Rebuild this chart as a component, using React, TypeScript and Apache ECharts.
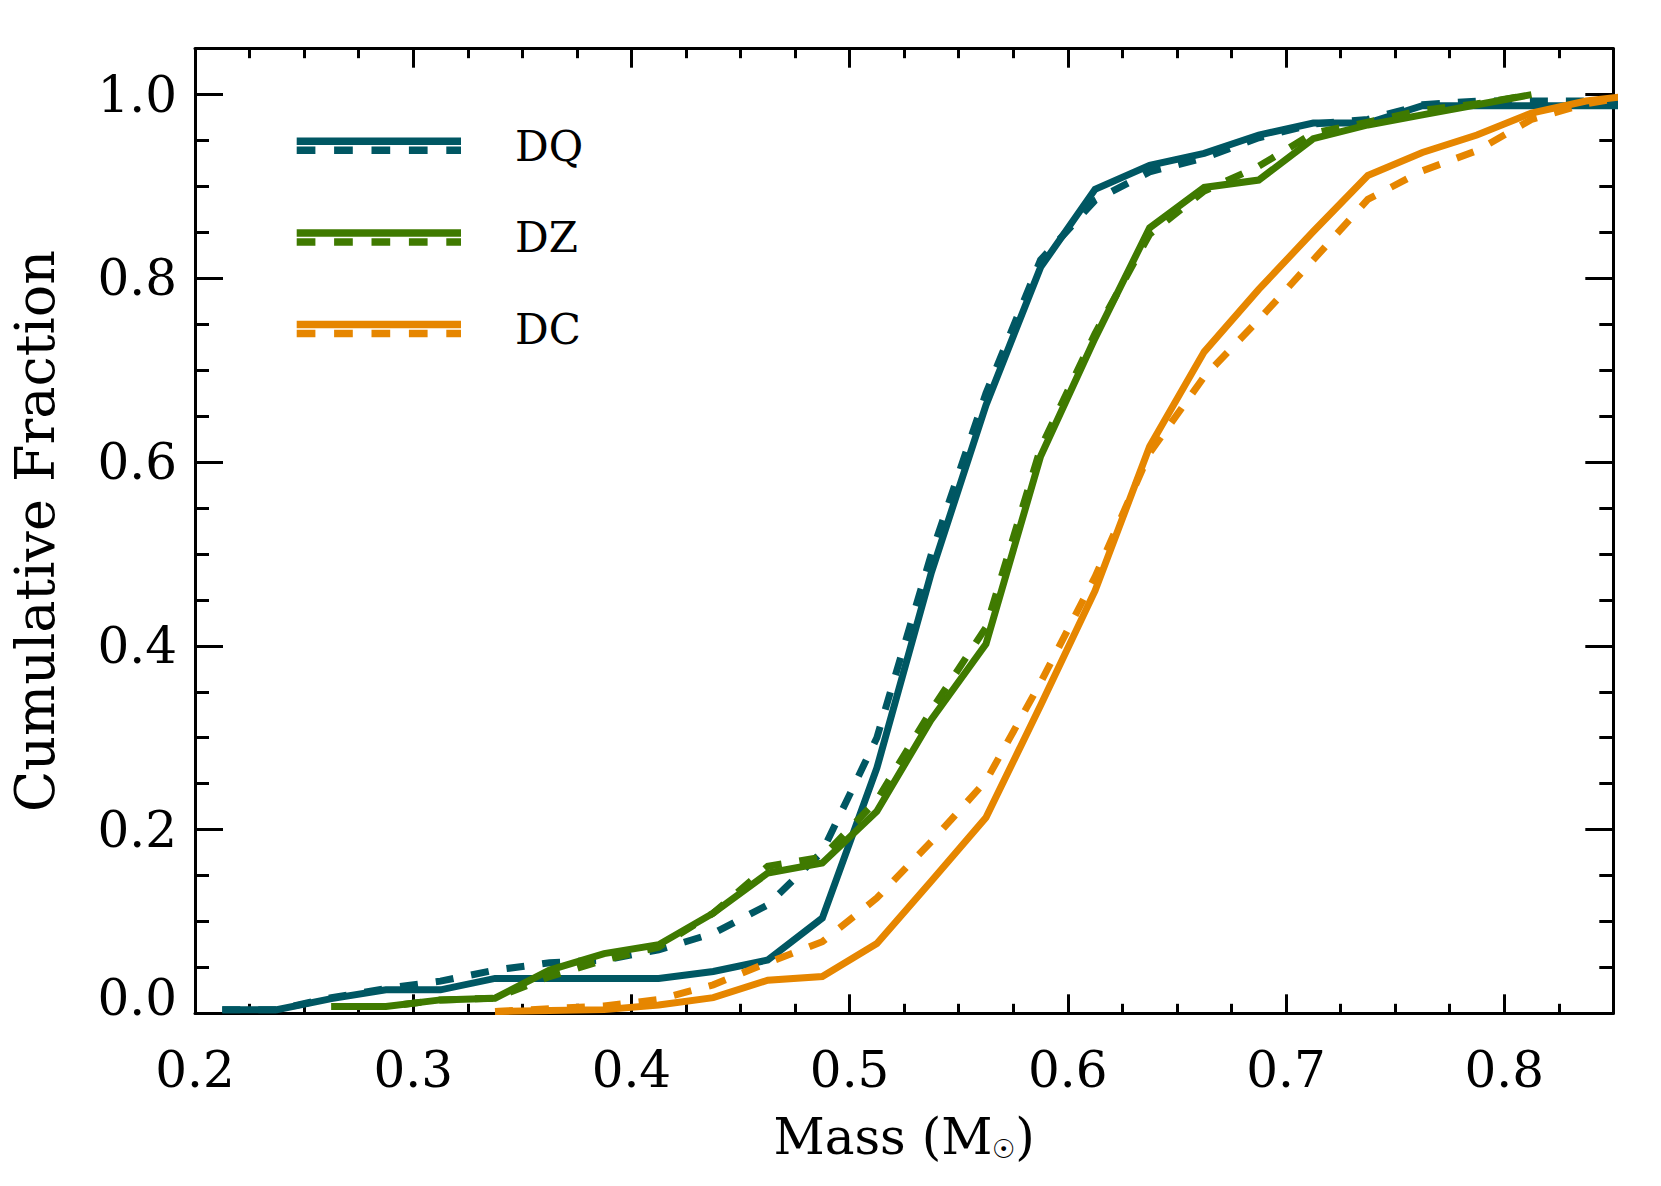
import React, { useEffect, useRef } from 'react';
import * as echarts from 'echarts';

// Mass bin centres (M_sun)
const massBins = [
  0.2125, 0.2375, 0.2625, 0.2875, 0.3125, 0.3375, 0.3625, 0.3875, 0.4125,
  0.4375, 0.4625, 0.4875, 0.5125, 0.5375, 0.5625, 0.5875, 0.6125, 0.6375,
  0.6625, 0.6875, 0.7125, 0.7375, 0.7625, 0.7875, 0.8125, 0.8375, 0.8625,
];

const dqSolid = [0.004, 0.004, 0.016, 0.0255, 0.0255, 0.038, 0.038, 0.038, 0.038, 0.0455, 0.058, 0.1036, 0.267, 0.48, 0.662, 0.812, 0.897, 0.923, 0.936, 0.956, 0.969, 0.969, 0.988, 0.988, 0.988, 0.988, 0.988];
const dqDashed = [0.004, 0.004, 0.017, 0.027, 0.035, 0.047, 0.055, 0.058, 0.069, 0.087, 0.118, 0.176, 0.3, 0.5, 0.675, 0.82, 0.885, 0.916, 0.931, 0.953, 0.968, 0.973, 0.989, 0.993, 0.993, 0.993, 0.993];
const dzSolid = [null, null, 0.0073, 0.0073, 0.0146, 0.0164, 0.047, 0.065, 0.0746, 0.109, 0.1527, 0.1636, 0.22, 0.32, 0.402, 0.606, 0.735, 0.855, 0.899, 0.907, 0.952, 0.967, 0.978, 0.989, 1.0, null, null];
const dzDashed = [null, null, 0.0073, 0.0073, 0.0146, 0.0164, 0.04, 0.058, 0.072, 0.109, 0.16, 0.17, 0.232, 0.33, 0.42, 0.615, 0.74, 0.848, 0.895, 0.922, 0.958, 0.97, 0.983, 0.99, 1.0, null, null];
const dcSolid = [null, null, null, null, null, 0.002, 0.003, 0.004, 0.009, 0.017, 0.036, 0.04, 0.076, 0.144, 0.213, 0.335, 0.46, 0.617, 0.72, 0.788, 0.851, 0.912, 0.937, 0.956, 0.98, 0.993, 1.0];
const dcDashed = [null, null, null, null, null, 0.002, 0.005, 0.008, 0.015, 0.031, 0.055, 0.078, 0.1255, 0.187, 0.253, 0.36, 0.475, 0.61, 0.693, 0.755, 0.82, 0.886, 0.917, 0.939, 0.973, 0.99, 1.0];

const classNames = ['DQ', 'DZ', 'DC'];
const classColors = ['#005763', '#3F7A00', '#E68600'];

const FONT = "'DejaVu Serif', serif";

function pairs(vals: (number | null)[]) {
  const out: [number, number][] = [];
  vals.forEach((v, i) => {
    if (v !== null) out.push([massBins[i], v]);
  });
  return out;
}

function isMultiple(v: number, step: number) {
  const r = v / step;
  return Math.abs(r - Math.round(r)) < 1e-6;
}

export default function App() {
  const ref = useRef<HTMLDivElement>(null);

  useEffect(() => {
    if (!ref.current) return;
    const chart = echarts.init(ref.current, null, { renderer: 'svg' });

    const black = '#000';
    const xTickCommon = {
      axisLine: { show: true, onZero: false, lineStyle: { color: black, width: 3 } },
      axisTick: { show: true, inside: true, length: 19, lineStyle: { color: black, width: 3 } },
      minorTick: { show: true, splitNumber: 4, length: 9.5, lineStyle: { color: black, width: 3 } },
      splitLine: { show: false },
      minorSplitLine: { show: false },
    };
    const yTickCommon = {
      axisLine: { show: true, onZero: false, lineStyle: { color: black, width: 3 } },
      axisTick: { show: true, inside: true, length: 28, lineStyle: { color: black, width: 3 } },
      minorTick: { show: true, splitNumber: 4, length: 14, lineStyle: { color: black, width: 3 } },
      splitLine: { show: false },
      minorSplitLine: { show: false },
    };

    const seriesDefs = [
      { name: 'DQ', data: dqSolid, color: classColors[0], dashed: false },
      { name: 'DQ dashed', data: dqDashed, color: classColors[0], dashed: true },
      { name: 'DZ', data: dzSolid, color: classColors[1], dashed: false },
      { name: 'DZ dashed', data: dzDashed, color: classColors[1], dashed: true },
      { name: 'DC', data: dcSolid, color: classColors[2], dashed: false },
      { name: 'DC dashed', data: dcDashed, color: classColors[2], dashed: true },
    ];

    const legendGraphics: any[] = [];
    classNames.forEach((name, i) => {
      const y0 = 141.2 + i * 91.7;
      legendGraphics.push({
        type: 'line',
        shape: { x1: 296.7, y1: y0, x2: 461, y2: y0 },
        style: { stroke: classColors[i], lineWidth: 7.5 },
      });
      legendGraphics.push({
        type: 'line',
        shape: { x1: 296.7, y1: y0 + 9, x2: 461, y2: y0 + 9 },
        style: { stroke: classColors[i], lineWidth: 7.5, lineDash: [18.7, 18.7] },
      });
      legendGraphics.push({
        type: 'text',
        x: 515,
        y: y0 + 5,
        style: {
          text: name,
          font: `42px ${FONT}`,
          fill: black,
          verticalAlign: 'middle',
          align: 'left',
        },
      });
    });

    chart.setOption({
      animation: false,
      backgroundColor: '#fff',
      grid: { left: 186.7, top: 48.7, width: 1426.6, height: 964.6, show: false },
      xAxis: [
        {
          type: 'value',
          position: 'bottom',
          min: 0.2,
          max: 0.85,
          interval: 0.1,
          ...xTickCommon,
          axisLabel: {
            show: true,
            margin: 32,
            color: black,
            fontFamily: FONT,
            fontSize: 50,
            formatter: (v: number) => (isMultiple(v, 0.1) ? v.toFixed(1) : ''),
          },
          name: 'Mass (M{sun|☉})',
          nameLocation: 'middle',
          nameGap: 99,
          nameTextStyle: {
            color: black,
            fontFamily: FONT,
            fontSize: 50,
            rich: {
              sun: { fontSize: 26, fontFamily: FONT, color: black, verticalAlign: 'bottom', padding: [22, 0, 0, 0] },
            },
          },
        },
        {
          type: 'value',
          position: 'top',
          min: 0.2,
          max: 0.85,
          interval: 0.1,
          ...xTickCommon,
          axisLabel: { show: false },
        },
      ],
      yAxis: [
        {
          type: 'value',
          position: 'left',
          min: 0,
          max: 1.05,
          interval: 0.2,
          ...yTickCommon,
          axisLabel: {
            show: true,
            margin: 18,
            color: black,
            fontFamily: FONT,
            fontSize: 50,
            formatter: (v: number) => {
              if (!isMultiple(v, 0.2)) return '';
              if (Math.abs(v) < 1e-9) return '{z|0.0}';
              return v.toFixed(1);
            },
            rich: {
              z: { fontFamily: FONT, fontSize: 50, color: black, padding: [0, 0, 30, 0] },
            },
          },
          name: 'Cumulative Fraction',
          nameLocation: 'middle',
          nameGap: 133,
          nameTextStyle: { color: black, fontFamily: FONT, fontSize: 54 },
        },
        {
          type: 'value',
          position: 'right',
          min: 0,
          max: 1.05,
          interval: 0.2,
          ...yTickCommon,
          axisLabel: { show: false },
        },
      ],
      series: seriesDefs.map((s) => ({
        type: 'line',
        name: s.name,
        xAxisIndex: 0,
        yAxisIndex: 0,
        data: pairs(s.data),
        showSymbol: false,
        symbol: 'none',
        clip: true,
        lineStyle: {
          color: s.color,
          width: 7,
          type: s.dashed ? [18, 18] : 'solid',
          cap: 'butt',
          join: 'miter',
        },
        itemStyle: { color: s.color },
      })),
      graphic: legendGraphics,
    });

    return () => chart.dispose();
  }, []);

  return (
    <div
      ref={ref}
      style={{ position: 'fixed', left: 0, top: 0, width: 1661, height: 1186, background: '#fff' }}
    />
  );
}
